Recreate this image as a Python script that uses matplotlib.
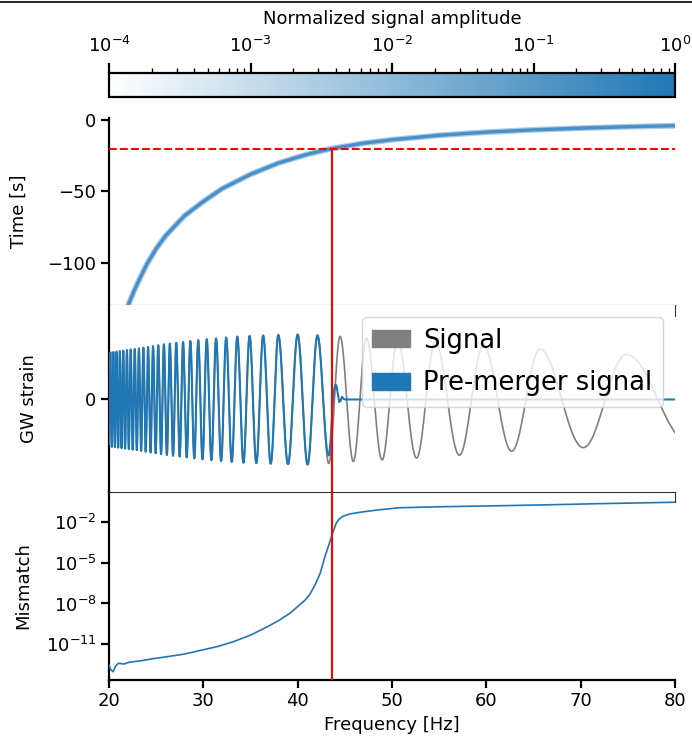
import numpy as np
import matplotlib
matplotlib.use("Agg")
import matplotlib.pyplot as plt
from matplotlib.colors import LogNorm, LinearSegmentedColormap
from matplotlib.cm import ScalarMappable
from matplotlib.patches import Patch
from matplotlib.lines import Line2D
from matplotlib.ticker import FixedLocator, NullLocator

plt.rcParams['font.family'] = ['DejaVu Sans']
plt.rcParams['font.size'] = 13

# ---------------- data ----------------
f_merge = 43.6      # Hz, red vertical line
t_cut = -20.0       # s, red dashed line

# time-frequency track (top panel)
track_freq = [22.0, 22.5, 23.0, 24.0, 25.0, 26.0, 28.0, 30.0, 32.0, 35.0, 38.0, 41.0,
              43.6, 47.0, 50.0, 55.0, 60.0, 65.0, 70.0, 75.0, 80.0]
track_time = [-130.0, -122.0, -114.5, -101.0, -90.0, -81.0, -67.0, -57.0, -48.0, -38.0,
              -30.0, -24.0, -20.0, -16.2, -13.8, -10.7, -8.5, -6.9, -5.7, -4.7, -4.0]

# strain: frequencies of the waveform crests
peak_freq = [19.83, 20.14, 20.46, 20.79, 21.15, 21.51, 21.90, 22.30, 22.73, 23.17, 23.64,
             24.14, 24.67, 25.22, 25.82, 26.45, 27.13, 27.85, 28.62, 29.46, 30.36, 31.35,
             32.42, 33.60, 34.90, 36.34, 37.95, 40.0, 42.1, 44.5, 47.3, 50.6, 54.6, 59.7,
             65.7, 74.9, 88.0]
# signal envelope
env_freq = [20, 23, 26, 30, 34, 38, 41, 43.6, 46, 50, 55, 62, 66, 71.5, 75, 80]
env_amp = [0.72, 0.78, 0.85, 0.92, 0.97, 0.99, 1.0, 0.98, 0.95, 0.92, 0.88, 0.80, 0.77,
           0.73, 0.69, 0.66]
# pre-merger envelope (tapered at the cut)
pm_freq = [20, 23, 26, 30, 34, 38, 41, 42.5, 43.35]
pm_amp = [0.72, 0.78, 0.85, 0.92, 0.97, 0.99, 1.0, 0.97, 0.85]
# pre-merger ringing tail after the cut
tail_freq = [43.35, 43.5, 43.65, 43.8, 43.95, 44.1, 44.25, 44.4, 44.55, 44.7, 44.85,
             45.0, 45.2, 45.5, 46.0, 80.0]
tail_val = [-0.85, -0.62, -0.2, 0.1, 0.22, 0.22, 0.1, -0.04, -0.02, 0.04, 0.01,
            0.0, 0.0, 0.0, 0.0, 0.0]

# mismatch (bottom panel)
mm_freq = [20.0, 20.2, 20.45, 20.7, 21.0, 21.6, 22.0, 22.6, 23.5, 24.5, 26.1, 28.0, 29.6,
           31.5, 33.2, 35.0, 36.7, 38.0, 39.2, 40.2, 40.8, 41.3, 41.8, 42.4, 42.9, 43.3,
           43.6, 43.9, 44.1, 44.4, 44.8, 45.5, 46.6, 48.5, 50.8, 55.0, 61.4, 66.0, 72.0, 80.0]
mm_val = [2.8e-13, 1.3e-13, 9.5e-14, 2.5e-13, 4.0e-13, 3.5e-13, 4.5e-13, 5.2e-13, 6.3e-13,
          8.3e-13, 1.2e-12, 1.9e-12, 3.4e-12, 6.8e-12, 1.55e-11, 4.7e-11, 1.8e-10, 5.6e-10,
          1.95e-9, 7.9e-9, 1.8e-8, 4.9e-8, 2.0e-7, 1.75e-6, 2.95e-5, 2.0e-4, 8.7e-4, 3.5e-3,
          8.5e-3, 1.6e-2, 2.6e-2, 3.8e-2, 5.1e-2, 7.6e-2, 0.11, 0.13, 0.155, 0.178, 0.22, 0.28]

xticks = [20, 30, 40, 50, 60, 70, 80]
time_ticks = [0, -50, -100]
mm_ticks = [1e-11, 1e-8, 1e-5, 1e-2]

# ---------------- figure ----------------
W, H = 692, 750
fig = plt.figure(figsize=(W / 100, H / 100), dpi=100)

def box(x0, y0, x1, y1):
    return [x0 / W, 1 - y1 / H, (x1 - x0) / W, (y1 - y0) / H]

L, R = 109, 675
ax1 = fig.add_axes(box(L, 118, R, 305))
ax2 = fig.add_axes(box(L, 305, R, 492), sharex=ax1)
ax3 = fig.add_axes(box(L, 492, R, 680), sharex=ax1)
cax = fig.add_axes(box(L, 73, R, 97))

blue = '#1f77b4'
cmap = LinearSegmentedColormap.from_list('wb', ['#ffffff', blue])

thick = 1.6
thin = 0.8
for ax in (ax1, ax2, ax3):
    for s in ax.spines.values():
        s.set_linewidth(thin)
        s.set_color('#333333')
    ax.spines['left'].set_linewidth(thick)
    ax.spines['left'].set_color('black')
    ax.tick_params(width=thick, length=5.5, labelsize=13, direction='out')

# ---- top panel ----
ax1.plot(track_freq, track_time, color='#a9cbe6', lw=4.2, solid_capstyle='butt', zorder=2)
ax1.plot(track_freq, track_time, color='#4a90c6', lw=2.4, solid_capstyle='butt', zorder=3)
ax1.axhline(t_cut, color='red', ls='--', lw=1.5, zorder=4)
ylo1 = -129.4
ax1.vlines(f_merge, ylo1, t_cut, color='red', lw=1.5, zorder=4)
ax1.set_ylim(ylo1, 1.4)
ax1.set_yticks(time_ticks)
ax1.set_ylabel('Time [s]')
ax1.yaxis.set_label_coords((28 - L) / (R - L), 0.5)
ax1.spines['top'].set_visible(False)
ax1.spines['right'].set_visible(False)
ax1.tick_params(axis='x', bottom=False, labelbottom=False)

# ---- middle panel ----
fgrid = np.linspace(20, 80, 8000)
phase = np.interp(fgrid, peak_freq, np.arange(len(peak_freq)))
signal = np.interp(fgrid, env_freq, env_amp) * np.cos(2 * np.pi * phase)
pre = np.where(fgrid <= tail_freq[0],
               np.interp(fgrid, pm_freq, pm_amp) * np.cos(2 * np.pi * phase),
               np.interp(fgrid, tail_freq, tail_val))
ax2.plot(fgrid, signal, color='grey', lw=1.2, zorder=2)
ax2.plot(fgrid, pre, color=blue, lw=1.5, zorder=3)
ax2.axvline(f_merge, color='red', lw=1.5, zorder=4)
ax2.set_ylim(-1.42, 1.45)
ax2.set_yticks([0])
ax2.set_ylabel('GW strain')
ax2.yaxis.set_label_coords((38 - L) / (R - L), 0.5)
ax2.spines['top'].set_visible(False)
ax2.spines['bottom'].set_visible(False)
ax2.spines['right'].set_bounds(1.28, 1.45)
ax2.tick_params(axis='x', bottom=False, labelbottom=False)
handles = [Patch(color='grey', label='Signal'), Patch(color=blue, label='Pre-merger signal')]
leg = ax2.legend(handles=handles, loc='upper right', fontsize=18.5, handlelength=1.5,
                 handleheight=0.65, framealpha=0.8, borderaxespad=0.48, borderpad=0.4,
                 labelspacing=0.65, handletextpad=0.5)
leg.set_zorder(5)

# ---- bottom panel ----
ax3.plot(mm_freq, mm_val, color=blue, lw=1.2, zorder=3)
ax3.axvline(f_merge, color='red', lw=1.5, zorder=4)
ax3.set_yscale('log')
ax3.set_ylim(10 ** -13.63, 10 ** 0.2)
ax3.yaxis.set_major_locator(FixedLocator(mm_ticks))
ax3.yaxis.set_minor_locator(NullLocator())
ax3.set_ylabel('Mismatch')
ax3.yaxis.set_label_coords((32 - L) / (R - L), 0.5)
ax3.set_xlabel('Frequency [Hz]')
ax3.spines['bottom'].set_linewidth(thick)
ax3.spines['bottom'].set_color('black')
ax3.spines['right'].set_bounds(10 ** -0.52, 10 ** 0.2)
ax3.set_xlim(20, 80)
ax3.set_xticks(xticks)

# ---- colorbar ----
sm = ScalarMappable(norm=LogNorm(1e-4, 1), cmap=cmap)
cb = fig.colorbar(sm, cax=cax, orientation='horizontal')
cax.xaxis.set_ticks_position('top')
cax.xaxis.set_label_position('top')
cb.set_label('Normalized signal amplitude', fontsize=13, labelpad=9)
cb.outline.set_linewidth(thick)
cax.tick_params(which='major', length=7, width=thick, labelsize=13, pad=5)
cax.tick_params(which='minor', length=3.5, width=1.0)

fig.add_artist(Line2D([0, 1], [1 - 2 / H, 1 - 2 / H], color='black', lw=1.2,
                      transform=fig.transFigure))

fig.savefig('out.png', dpi=100)
